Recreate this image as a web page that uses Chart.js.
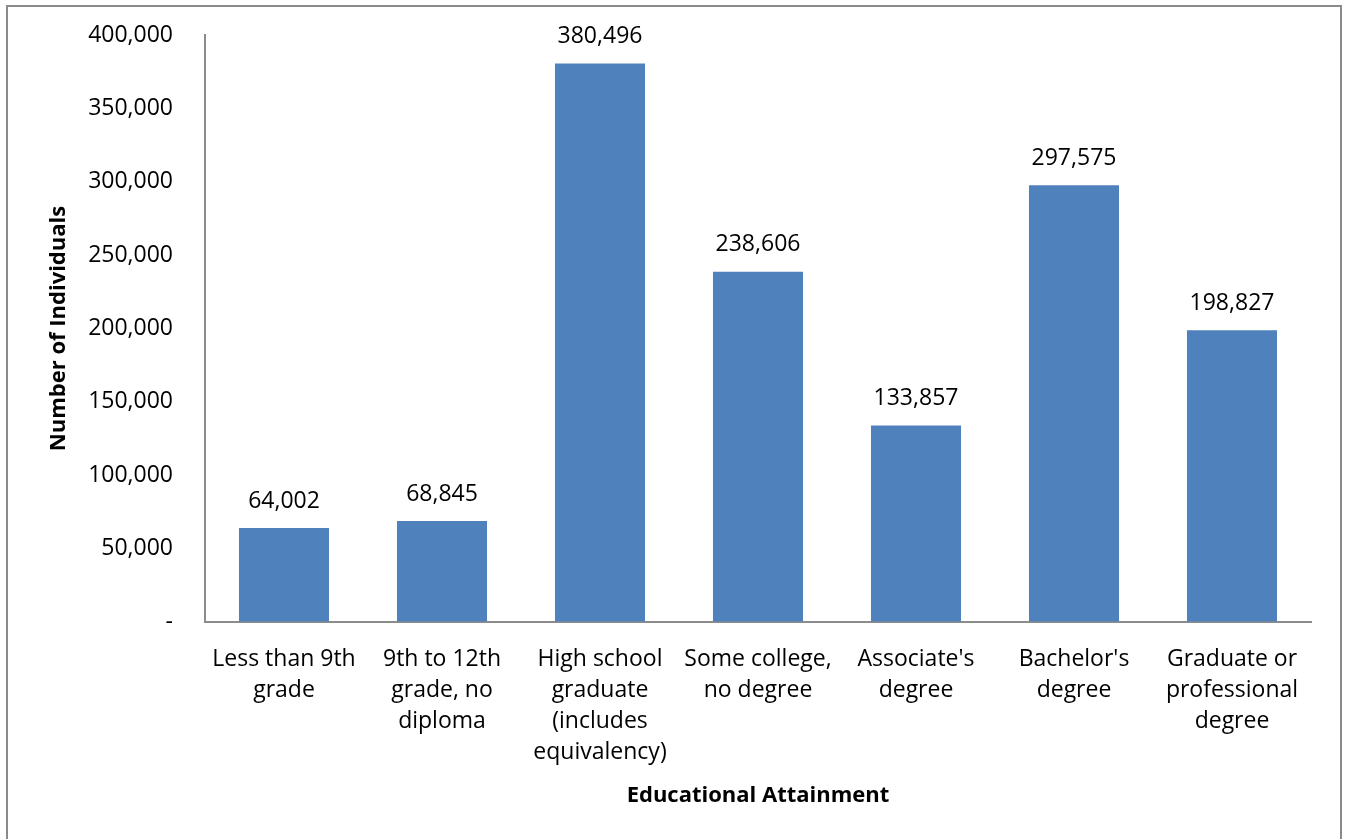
<!DOCTYPE html>
<html>
<head>
<meta charset="utf-8">
<script src="https://cdn.jsdelivr.net/npm/chart.js@4/dist/chart.umd.min.js"></script>
<style>
  html, body { margin: 0; padding: 0; background: #fff; overflow: hidden; }
  #wrap { position: relative; width: 1347px; height: 839px; }
  #frame { position: absolute; left: 6px; top: 5px; width: 1336px; height: 900px; border: 2px solid #8a8a8a; box-sizing: border-box; pointer-events: none; }
  canvas { position: absolute; left: 0; top: 0; }
</style>
</head>
<body>
<div id="wrap">
  <canvas id="c" width="1347" height="839"></canvas>
  <div id="frame"></div>
</div>
<script>
const categories = [
  ["Less than 9th", "grade"],
  ["9th to 12th", "grade, no", "diploma"],
  ["High school", "graduate", "(includes", "equivalency)"],
  ["Some college,", "no degree"],
  ["Associate's", "degree"],
  ["Bachelor's", "degree"],
  ["Graduate or", "professional", "degree"]
];
const values = [64002, 68845, 380496, 238606, 133857, 297575, 198827];
const yTickMin = 0;
const yTickMax = 400000;
const yTickStep = 50000;
const xTitle = "Educational Attainment";
const yTitle = "Number of Individuals";

const FONT = "'Open Sans', 'Noto Sans', sans-serif";
const fmt = v => v === 0 ? '-' : v.toLocaleString('en-US');

const valueLabels = {
  id: 'valueLabels',
  afterDatasetsDraw(chart) {
    const ctx = chart.ctx;
    const meta = chart.getDatasetMeta(0);
    ctx.save();
    ctx.font = "23px " + FONT;
    ctx.fillStyle = '#000';
    ctx.textAlign = 'center';
    ctx.textBaseline = 'middle';
    meta.data.forEach((bar, i) => {
      ctx.fillText(fmt(values[i]), bar.x, bar.y - 27);
    });
    ctx.restore();
  }
};

new Chart(document.getElementById('c'), {
  type: 'bar',
  data: {
    labels: categories,
    datasets: [{
      data: values,
      backgroundColor: '#4f81bd',
      borderWidth: 0,
      barPercentage: 0.57,
      categoryPercentage: 1.0
    }]
  },
  options: {
    responsive: false,
    animation: false,
    layout: { padding: { left: 0, top: 35, right: 36, bottom: 0 } },
    plugins: { legend: { display: false }, tooltip: { enabled: false } },
    scales: {
      x: {
        afterFit: s => { s.height = 217; },
        grid: { display: false, drawTicks: false },
        border: { display: true, color: '#8c8c8c', width: 2 },
        ticks: {
          color: '#000',
          padding: 22,
          maxRotation: 0,
          autoSkip: false,
          font: { family: FONT, size: 23, lineHeight: 1.35 }
        },
        title: {
          display: true,
          text: xTitle,
          color: '#000',
          font: { family: FONT, size: 22, weight: 'bold', lineHeight: 1.2 },
          padding: { top: 0, bottom: 30 }
        }
      },
      y: {
        min: yTickMin,
        max: yTickMax,
        afterFit: s => { s.width = 205; },
        grid: { display: true, drawOnChartArea: false, drawTicks: true, tickLength: 28, tickColor: 'rgba(0,0,0,0)' },
        border: { display: true, color: '#8c8c8c', width: 2 },
        ticks: {
          stepSize: yTickStep,
          color: '#000',
          padding: 4,
          font: { family: FONT, size: 23 },
          callback: v => fmt(v)
        },
        title: {
          display: true,
          text: yTitle,
          color: '#000',
          font: { family: FONT, size: 22, weight: 'bold', lineHeight: 1.2 },
          padding: { top: 46, bottom: 0 }
        }
      }
    }
  },
  plugins: [valueLabels]
});
</script>
</body>
</html>
